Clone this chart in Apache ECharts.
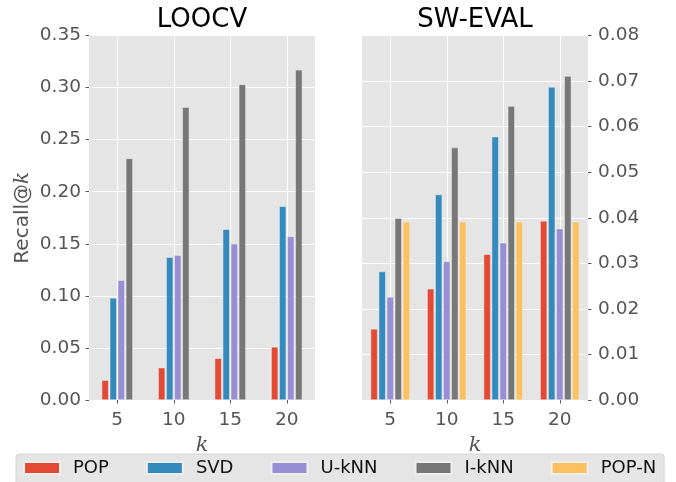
<!DOCTYPE html>
<html>
<head>
<meta charset="utf-8">
<script src="https://cdn.jsdelivr.net/npm/echarts@6/dist/echarts.min.js"></script>
<style>html,body{margin:0;padding:0;background:#fff}#c{width:676px;height:482px}</style>
</head>
<body>
<div id="c"></div>
<script>
const categories = ['5', '10', '15', '20'];
const seriesNames = ['POP', 'SVD', 'U-kNN', 'I-kNN', 'POP-N'];
const looPOP  = [0.019, 0.031, 0.040, 0.051];
const looSVD  = [0.098, 0.137, 0.164, 0.186];
const looUkNN = [0.115, 0.139, 0.150, 0.157];
const looIkNN = [0.232, 0.281, 0.303, 0.317];
const swPOP   = [0.0156, 0.0244, 0.0320, 0.0393];
const swSVD   = [0.0282, 0.0451, 0.0578, 0.0687];
const swUkNN  = [0.0226, 0.0304, 0.0345, 0.0376];
const swIkNN  = [0.0399, 0.0554, 0.0645, 0.0711];
const swPOPN  = [0.0391, 0.0391, 0.0391, 0.0391];

const colors = {'POP':'#E24A33','SVD':'#348ABD','U-kNN':'#988ED5','I-kNN':'#777777','POP-N':'#FBC15E'};
const FONT = 'DejaVu Sans';
const tickColor = '#555555';

function xAxisCfg(gi) {
  return {
    type: 'category', gridIndex: gi, data: categories,
    axisLine: {show: false},
    axisTick: {show: true, alignWithLabel: true, length: 3.5, lineStyle: {color: tickColor, width: 1}},
    axisLabel: {color: tickColor, fontSize: 18.5, fontFamily: FONT, margin: 11},
    splitLine: {show: true, alignWithLabel: true, lineStyle: {color: '#ffffff', width: 1}},
    name: 'k', nameLocation: 'middle', nameGap: 28,
    nameTextStyle: {fontFamily: 'DejaVu Serif', fontStyle: 'italic', fontSize: 21, color: '#555555'}
  };
}
function yAxisCfg(gi, max, interval, pos) {
  return {
    type: 'value', gridIndex: gi, min: 0, max: max, interval: interval, position: pos,
    axisLine: {show: false},
    axisTick: {show: true, length: 3.5, lineStyle: {color: tickColor, width: 1}},
    axisLabel: {color: tickColor, fontSize: 18.5, fontFamily: FONT, margin: pos === 'right' ? 10 : 8,
      formatter: v => v.toFixed(2)},
    splitLine: {show: true, lineStyle: {color: '#ffffff', width: 1}}
  };
}
function bar(name, data, gi) {
  return {
    type: 'bar', name: name, data: data, xAxisIndex: gi, yAxisIndex: gi,
    barWidth: 7, barGap: '15%',
    itemStyle: {color: colors[name], borderColor: '#eeeeee', borderWidth: 0.5},
    emphasis: {disabled: true}
  };
}

const yLeft = yAxisCfg(0, 0.35, 0.05, 'left');
yLeft.name = 'Recall@{k|k}';
yLeft.nameLocation = 'middle';
yLeft.nameGap = 56;
yLeft.nameTextStyle = {fontFamily: FONT, fontSize: 20, color: '#555555',
  rich: {k: {fontFamily: 'DejaVu Serif', fontStyle: 'italic', fontSize: 20, color: '#555555'}}};

const chart = echarts.init(document.getElementById('c'), null, {renderer: 'canvas'});
chart.setOption({
  animation: false,
  backgroundColor: '#ffffff',
  title: [
    {text: 'LOOCV', left: 197, top: 2, textAlign: 'center',
      textStyle: {fontFamily: FONT, fontSize: 26, fontWeight: 'normal', color: '#000000'}},
    {text: 'SW-EVAL', left: 470, top: 2, textAlign: 'center',
      textStyle: {fontFamily: FONT, fontSize: 26, fontWeight: 'normal', color: '#000000'}}
  ],
  grid: [
    {left: 89, top: 35.5, width: 226, height: 364.5, show: true, backgroundColor: '#E5E5E5', borderWidth: 0, containLabel: false},
    {left: 362, top: 35.5, width: 226, height: 364.5, show: true, backgroundColor: '#E5E5E5', borderWidth: 0, containLabel: false}
  ],
  xAxis: [xAxisCfg(0), xAxisCfg(1)],
  yAxis: [yLeft, yAxisCfg(1, 0.08, 0.01, 'right')],
  legend: {
    data: seriesNames, left: 16, top: 454, orient: 'horizontal',
    itemWidth: 36, itemHeight: 12, itemGap: 37,
    icon: 'rect',
    backgroundColor: '#E5E5E5', borderColor: '#d6d6d6', borderWidth: 1, borderRadius: 3,
    padding: [5, 8, 12, 7],
    textStyle: {fontFamily: FONT, fontSize: 18, color: '#111111', padding: [0, 0, 0, 8]},
    selectedMode: false
  },
  series: [
    bar('POP', looPOP, 0), bar('SVD', looSVD, 0), bar('U-kNN', looUkNN, 0), bar('I-kNN', looIkNN, 0),
    bar('POP', swPOP, 1), bar('SVD', swSVD, 1), bar('U-kNN', swUkNN, 1), bar('I-kNN', swIkNN, 1), bar('POP-N', swPOPN, 1)
  ]
});
</script>
</body>
</html>
